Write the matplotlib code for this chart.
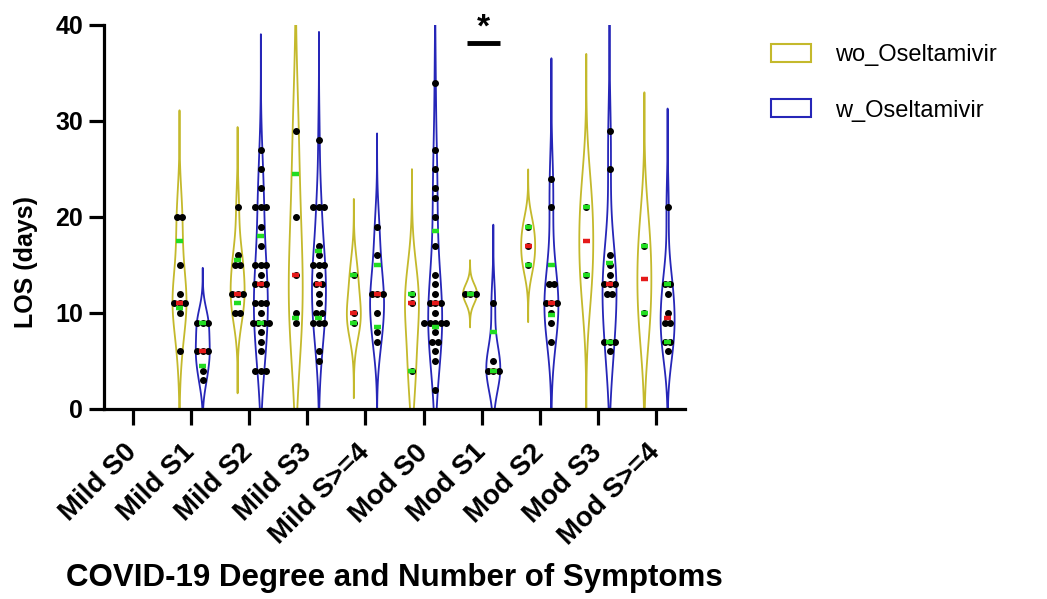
import matplotlib

matplotlib.use("Agg")
import matplotlib.pyplot as plt
import numpy as np
from matplotlib.patches import Patch

plt.rcParams["font.family"] = ["Liberation Sans", "DejaVu Sans"]

# groups on the x axis
categories = ["Mild S0", "Mild S1", "Mild S2", "Mild S3", "Mild S>=4",
              "Mod S0", "Mod S1", "Mod S2", "Mod S3", "Mod S>=4"]
series_names = ["wo_Oseltamivir", "w_Oseltamivir"]

# LOS (days) per patient
wo_los = [
    [],
    [6, 10, 11, 11, 11, 12, 15, 20, 20],
    [10, 10, 12, 12, 12, 15, 15, 16, 21],
    [9, 10, 14, 20, 29],
    [9, 10, 14],
    [4, 11, 12],
    [12, 12, 12],
    [15, 17, 19],
    [14, 21],
    [10, 17],
]
w_los = [
    [],
    [3, 4, 6, 6, 6, 9, 9, 9],
    [4, 4, 4, 6, 7, 8, 9, 9, 9, 9, 10, 11, 11, 11, 13, 13, 13, 14, 15, 15, 15,
     17, 19, 21, 21, 21, 23, 25, 27],
    [5, 6, 9, 9, 9, 10, 10, 11, 12, 13, 13, 14, 15, 15, 15, 16, 17, 21, 21, 21, 28],
    [7, 8, 10, 12, 12, 12, 16, 19],
    [2, 5, 6, 7, 7, 8, 9, 9, 9, 9, 9, 10, 11, 11, 11, 12, 13, 14, 17, 20, 22,
     23, 25, 27, 34],
    [4, 4, 4, 5, 11],
    [7, 9, 10, 11, 11, 11, 13, 13, 21, 24],
    [6, 7, 7, 7, 12, 12, 13, 13, 13, 14, 15, 16, 25, 29],
    [6, 7, 7, 9, 9, 10, 12, 13, 13, 21],
]

colors = ["#c4b92c", "#2626b8"]
offsets = [-0.2, 0.2]
half_width = 0.12
dot_step = 0.095


def kde_outline(values):
    v = np.asarray(values, dtype=float)
    sd = v.std(ddof=1) if len(v) > 1 else 0.0
    bw = 1.06 * sd * len(v) ** -0.2 if sd > 0 else 1.0
    y = np.linspace(v.min() - 3.5 * bw, v.max() + 3.5 * bw, 400)
    dens = np.exp(-0.5 * ((y[:, None] - v[None, :]) / bw) ** 2).sum(axis=1)
    return y, dens / dens.max()


fig = plt.figure(figsize=(10.47, 5.99), dpi=100)
ax = fig.add_axes([0.0993, 0.3172, 0.5550, 0.6411])

for s, data in enumerate([wo_los, w_los]):
    for i, values in enumerate(data):
        if not values:
            continue
        xc = i + offsets[s]
        y, d = kde_outline(values)
        ax.fill_betweenx(y, xc - half_width * d, xc + half_width * d,
                         facecolor="none", edgecolor=colors[s], linewidth=1.3, zorder=2)

        # spread equal values sideways like a column scatter
        uniq, counts = np.unique(values, return_counts=True)
        for val, k in zip(uniq, counts):
            xs = xc + (np.arange(k) - (k - 1) / 2) * dot_step
            ax.plot(xs, [val] * k, "o", color="black", markersize=4, zorder=3)

        q1, med, q3 = np.percentile(values, [25, 50, 75], method="weibull")
        ax.hlines(med, xc - 0.06, xc + 0.06, colors="#e51a1a", linewidth=3.2, zorder=4)
        ax.hlines([q1, q3], xc - 0.06, xc + 0.06, colors="#22dd22", linewidth=3.2, zorder=4)

# significance marker for Mod S1
ax.plot([5.75, 6.32], [38.1, 38.1], color="black", linewidth=3.5,
        solid_capstyle="butt", clip_on=False, zorder=5)
ax.text(6.03, 39.7, "*", ha="center", va="center", fontsize=24,
        fontweight="bold", clip_on=False)

ax.set_xlim(-0.5, len(categories) - 0.5)
ax.set_ylim(0, 40)
ax.set_yticks([0, 10, 20, 30, 40])
ax.set_xticks(range(len(categories)))
ax.set_xticklabels(categories, rotation=45, ha="right", va="center",
                   rotation_mode="anchor", fontsize=20, fontweight="bold")
for lab in ax.get_yticklabels():
    lab.set_fontsize(18)
    lab.set_fontweight("bold")

for side in ["top", "right"]:
    ax.spines[side].set_visible(False)
for side in ["left", "bottom"]:
    ax.spines[side].set_linewidth(2.3)
ax.tick_params(axis="y", length=11, width=2.3, pad=4)
ax.tick_params(axis="x", length=11.5, width=2.3, pad=17)

ax.set_ylabel("LOS (days)", fontsize=18, fontweight="bold")
ax.yaxis.set_label_coords(-0.114, 0.384)
fig.text(0.377, 0.035, "COVID-19 Degree and Number of Symptoms", ha="center",
         va="center", fontsize=22.5, fontweight="bold")

handles = [Patch(facecolor="none", edgecolor=c, linewidth=1.5) for c in colors]
fig.legend(handles, series_names, loc="upper left", bbox_to_anchor=(0.716, 0.962),
           frameon=False, fontsize=17, handlelength=1.7, handleheight=0.8,
           handletextpad=1.0, labelspacing=1.4)

fig.savefig("out.png", dpi=100)
plt.close(fig)
